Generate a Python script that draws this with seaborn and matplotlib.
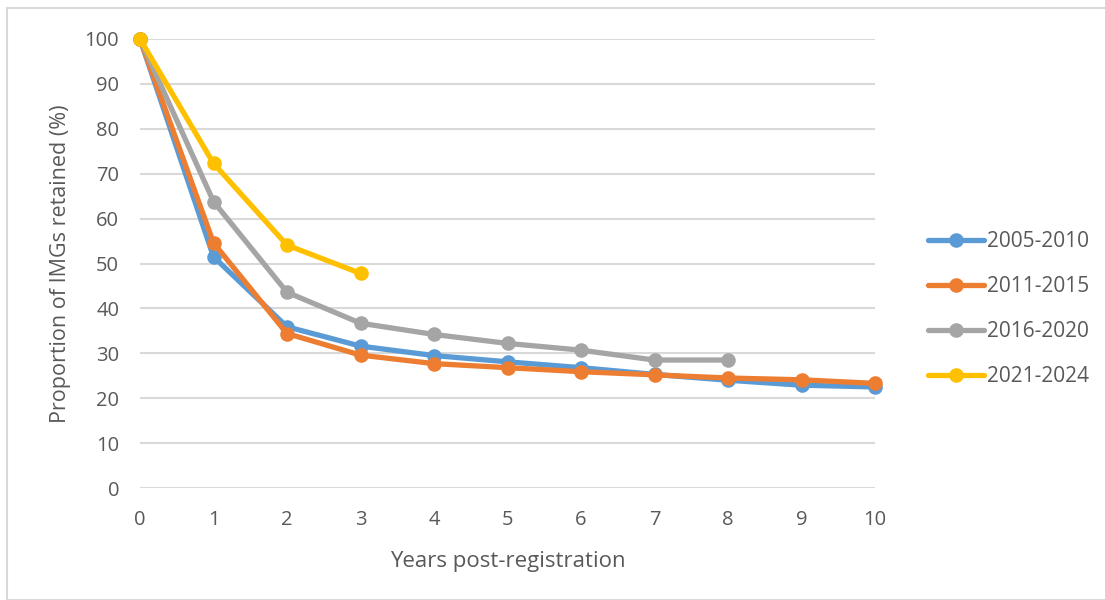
import matplotlib
matplotlib.use("Agg")
import matplotlib.pyplot as plt
import matplotlib.patches as mpatches
import seaborn as sns

# years since registration
years = [0, 1, 2, 3, 4, 5, 6, 7, 8, 9, 10]

# retention (%) by registration cohort
c2005_2010 = [100, 51.5, 35.9, 31.6, 29.5, 28.1, 26.8, 25.3, 24.0, 22.9, 22.5]
c2011_2015 = [100, 54.6, 34.4, 29.6, 27.7, 26.8, 25.9, 25.2, 24.5, 24.1, 23.3]
c2016_2020 = [100, 63.8, 43.6, 36.7, 34.2, 32.2, 30.7, 28.5, 28.5]
c2021_2024 = [100, 72.3, 54.1, 47.8]

labels = ["2005-2010", "2011-2015", "2016-2020", "2021-2024"]
colors = ["#5B9BD5", "#ED7D31", "#A5A5A5", "#FFC000"]
series = [c2005_2010, c2011_2015, c2016_2020, c2021_2024]

sns.set_style("white")
plt.rcParams["font.family"] = ["Open Sans", "DejaVu Sans"]
txt = "#595959"

fig = plt.figure(figsize=(11.05, 6), dpi=100)
ax = fig.add_axes([140 / 1105, 112 / 600, 735 / 1105, 449 / 600])

for vals, lab, col in zip(series, labels, colors):
    sns.lineplot(x=years[:len(vals)], y=vals, ax=ax, color=col, label=lab,
                 marker="o", markersize=10.5, markeredgewidth=0, linewidth=3.8,
                 clip_on=False)

ax.set_xlim(0, 10)
ax.set_ylim(0, 100)
ax.set_xticks(range(0, 11))
ax.set_yticks(range(0, 101, 10))
ax.yaxis.grid(True, color="#D9D9D9", linewidth=1.5)
ax.set_axisbelow(True)
for s in ax.spines.values():
    s.set_visible(False)
ax.tick_params(axis="both", length=0, labelsize=14.5, labelcolor=txt)
ax.tick_params(axis="y", pad=15)
ax.tick_params(axis="x", pad=16)
ax.set_xlabel("Years post-registration", fontsize=16, color=txt, labelpad=15)
ax.set_ylabel("Proportion of IMGs retained (%)", fontsize=15.5, color=txt, labelpad=10)

leg = ax.legend(loc="upper left", bbox_to_anchor=(1.046, 0.614), frameon=False,
                fontsize=15, labelcolor=txt, handlelength=2.7, handletextpad=0.15,
                labelspacing=1.15)

fig.patches.append(mpatches.Rectangle((7 / 1105, 0), 1, 592 / 600, transform=fig.transFigure,
                                      fill=False, edgecolor="#D9D9D9", linewidth=1.5))

fig.savefig("out.png", dpi=100)
